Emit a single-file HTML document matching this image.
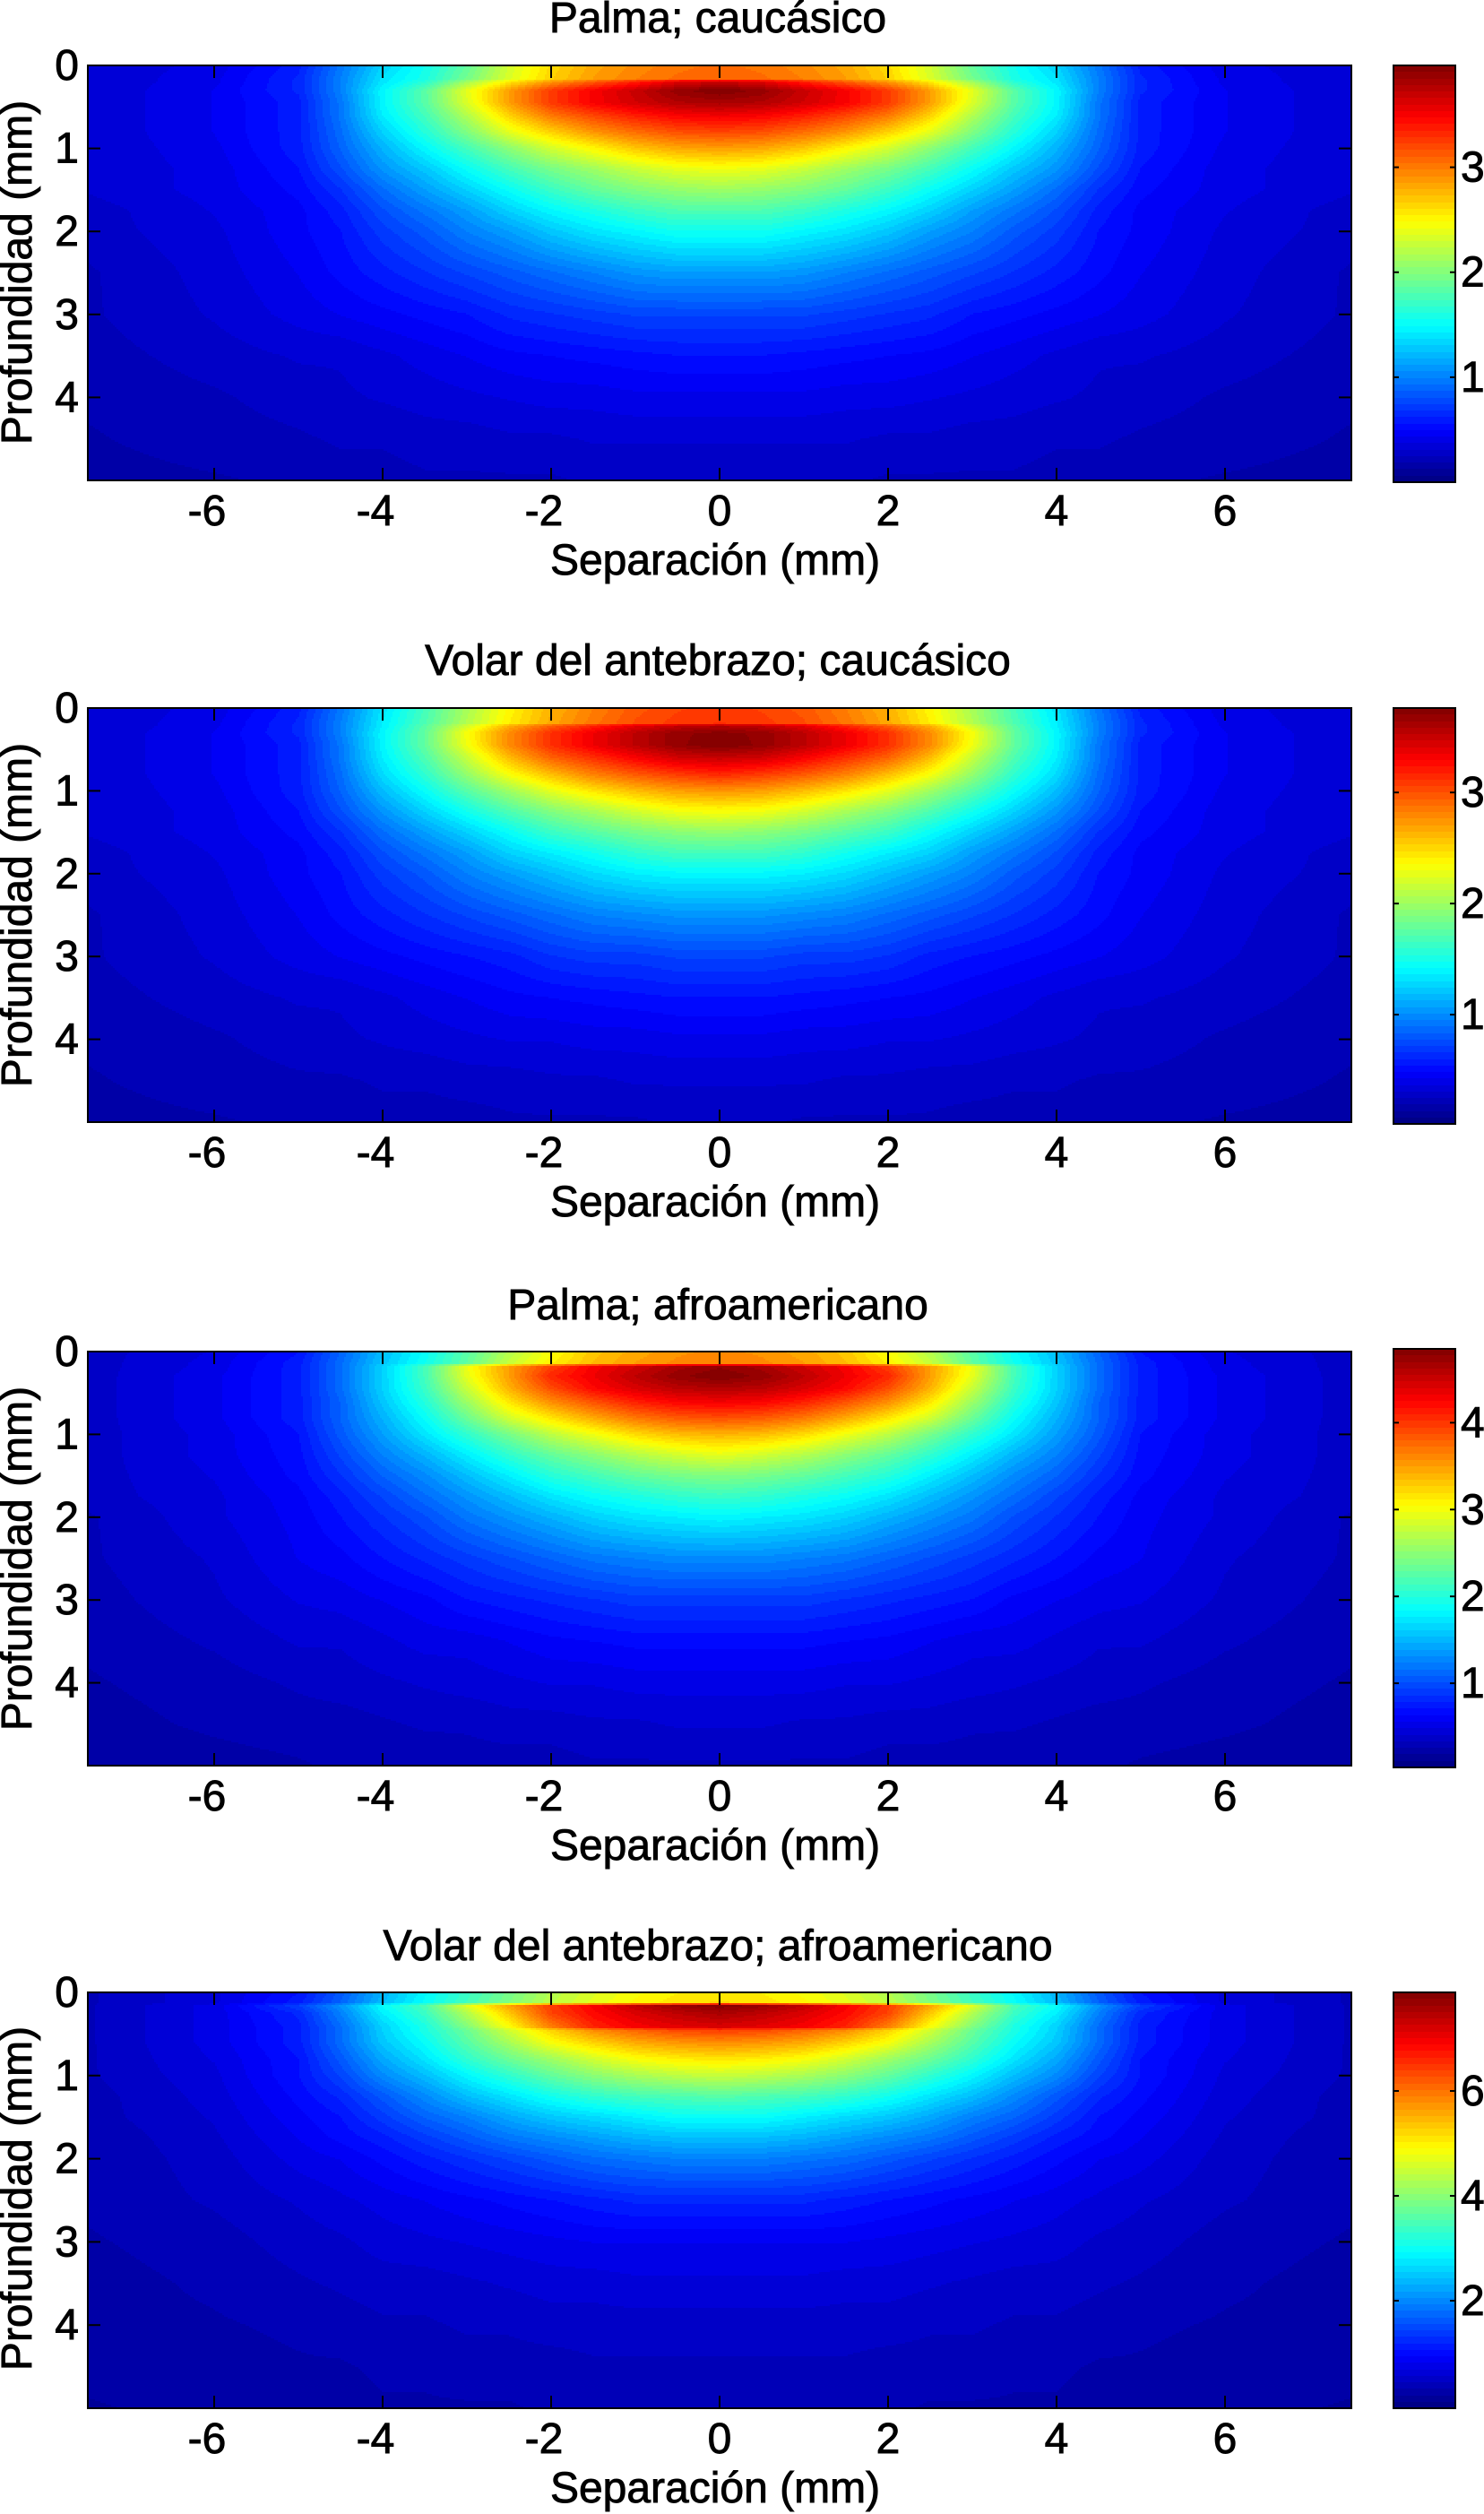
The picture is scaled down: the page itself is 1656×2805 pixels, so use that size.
<!DOCTYPE html>
<html lang="es">
<head>
<meta charset="utf-8">
<title>Fluencia: palma y volar del antebrazo</title>
<style>
html,body{margin:0;padding:0;background:#fff;}
svg{display:block;}
text{font-family:"Liberation Sans",Arial,sans-serif;font-size:48px;fill:#000;stroke:#000;stroke-width:.9px;}
</style>
</head>
<body>
<svg id="figure" xmlns="http://www.w3.org/2000/svg" width="1656" height="2805" viewBox="0 0 1656 2805">
  <rect x="0" y="0" width="1656" height="2805" fill="#fff"/>
  <g id="panel-0"></g>
  <g id="panel-1"></g>
  <g id="panel-2"></g>
  <g id="panel-3"></g>

  <text x="801" y="36" text-anchor="middle">Palma; caucásico</text>
  <text x="798" y="641" text-anchor="middle">Separación (mm)</text>
  <text transform="translate(35 304) rotate(-90)" text-anchor="middle">Profundidad (mm)</text>

  <text x="801" y="753" text-anchor="middle">Volar del antebrazo; caucásico</text>
  <text x="798" y="1357" text-anchor="middle">Separación (mm)</text>
  <text transform="translate(35 1021) rotate(-90)" text-anchor="middle">Profundidad (mm)</text>

  <text x="801" y="1472" text-anchor="middle">Palma; afroamericano</text>
  <text x="798" y="2075" text-anchor="middle">Separación (mm)</text>
  <text transform="translate(35 1739) rotate(-90)" text-anchor="middle">Profundidad (mm)</text>

  <text x="801" y="2187" text-anchor="middle">Volar del antebrazo; afroamericano</text>
  <text x="798" y="2792" text-anchor="middle">Separación (mm)</text>
  <text transform="translate(35 2453) rotate(-90)" text-anchor="middle">Profundidad (mm)</text>
</svg>

<script>
// ---- chart data ----
// Absolute separation |x| in mm (the maps are drawn mirrored about x = 0).
const separationColumns = [0, 0.5, 1, 1.5, 2, 2.5, 3, 3.5, 4, 4.5, 5, 6, 7.5];

const xTickValues = [-6, -4, -2, 0, 2, 4, 6];
const yTickValues = [0, 1, 2, 3, 4];

// Colour-bar maxima and tick values per panel.
const colorbarMax = [3.97, 3.76, 4.85, 7.88];
const colorbarTicks1 = [1, 2, 3];
const colorbarTicks2 = [1, 2, 3];
const colorbarTicks3 = [1, 2, 3, 4];
const colorbarTicks4 = [2, 4, 6];

// Depth rows in mm, one list per panel.
const depthRows1 = [0, 0.17, 0.19, 0.3, 0.45, 0.6, 0.8, 1, 1.25, 1.5, 1.75, 2, 2.5, 3, 3.5, 4, 4.5, 5];
const depthRows2 = [0, 0.19, 0.21, 0.3, 0.45, 0.6, 0.8, 1, 1.25, 1.5, 1.75, 2, 2.5, 3, 3.5, 4, 4.5, 5];
const depthRows3 = [0, 0.15, 0.17, 0.3, 0.45, 0.6, 0.8, 1, 1.25, 1.5, 1.75, 2, 2.5, 3, 3.5, 4, 4.5, 5];
const depthRows4 = [0, 0.13, 0.15, 0.25, 0.42, 0.45, 0.6, 0.8, 1, 1.25, 1.5, 1.75, 2, 2.5, 3, 3.5, 4, 4.5, 5];

// Map values as percent of the panel's colour-bar maximum (rows = depth, columns = |x|).
const fluence1 = [
[77,76,74,71,66,58,47,39,33,24,15,10,8],
[78,77,75,72,67,59,49,40,35,25,16,10.5,8],
[92,90,84,78,72,64,53,41,35,25,16,10.5,8],
[100,98,93,88,82,72,60,46,37,25,16,11,8],
[96,95,92,88,82,72,59,46,37,24,15,11,8],
[89,88,85,81,76,67,55,44,36,24,15,11,8],
[81,80,77,73,67,60,50,41,33,23,15,11,8],
[72,71,68,63,58,51,44,37,30,22,15,10.5,8],
[61,60,57,53,49,44,38,32,27,20,14,10,8],
[53,52,50,47,43,38,33,28,23,17,13,10,8],
[45,45,43,40,37,33,28,24,20,15,12,9.5,7],
[39,39,37,35,32,28,25,21,18,14,12,9,7],
[28,28,27,25,23,21,19,17,15,13,11,8.5,6],
[19,19,19,18,17,16,14,13,12,11,10,8,6],
[14,14,13.5,13,12.5,12,11,10,9,8,8,7,5.5],
[10.5,10.5,10.5,10,10,9.5,9,8.5,8,7.5,7,6,5],
[8,8,8,8,7.5,7.5,7,7,6.5,6.5,6,5.5,4.5],
[6.5,6.5,6.5,6.5,6,6,6,6,5.5,5.5,5,4.5,4]
];
const fluence2 = [
[82,81,79,75,70,63,54,44,35,24,15,10,8],
[83,82,80,76,71,64,55,45,36,25,16,10.5,8],
[95,93,90,84,78,70,58,46,36,25,16,10.5,8],
[99,98,94,89,83,74,62,47,37,25,16,11,8],
[100,98,94,89,83,74,61,47,37,24,15,11,8],
[93,92,88,83,78,69,57,45,36,24,15,11,8],
[84,82,79,75,69,62,52,42,34,23,15,11,8],
[73,72,69,65,60,53,46,38,31,22,15,10.5,8],
[62,61,58,54,50,45,39,33,27,20,14,10,8],
[52,51,49,46,43,38,33,28,23,17,13,10,8],
[44,44,42,39,36,33,28,24,20,15,12,9.5,7],
[37,37,36,34,31,28,25,21,18,14,12,9,7],
[27,27,26,25,23,21,19,17,15,13,11,8.5,6],
[19,19,18,18,17,15,14,13,12,11,10,8,6],
[14,14,13.5,13,12.5,12,11,10,9,8,8,7,5.5],
[10.5,10.5,10,10,9.5,9.5,9,8.5,8,7.5,7,6,5],
[8,8,8,7.5,7.5,7,7,6.5,6.5,6,6,5.5,4.5],
[6.5,6.5,6,6,6,6,5.5,5.5,5.5,5,5,4.5,4]
];
const fluence3 = [
[74,73,71,68,62,55,46,38,31,22,14,9.5,7],
[75,74,72,69,64,57,47,39,32,23,15,10,7],
[98,96,92,88,81,72,61,44,33,23,15,10,7],
[100,98,94,89,84,72,60,44,33,23,15,10.5,7],
[95,94,91,87,80,70,57,43,33,23,15,10.5,7],
[89,88,85,80,74,65,53,41,32,22,15,10.5,7],
[80,79,76,71,65,58,48,38,30,22,15,10.5,7],
[70,69,66,61,56,49,42,35,28,21,14,10,7],
[60,58,55,51,47,42,36,30,25,19,13.5,10,7],
[50,49,47,44,41,36,31,26,22,17,13,9.5,7],
[43,42,40,38,35,31,27,23,19,15,12,9,7],
[37,36,35,33,30,27,24,20,17,14,11.5,9,6],
[26,26,25,24,22,20,18,16,14,12,11,8,6],
[18,18,18,17,16,15,14,12,11,10,9.5,7.5,5.5],
[13,13,13,12.5,12,11,10,10,9,8,8,6.5,5],
[10,10,10,9.5,9.5,9,8.5,8,7.5,7,6.5,5.5,4.5],
[8,8,7.5,7.5,7,7,6.5,6.5,6,5.5,5.5,5,4],
[6,6,6,6,5.5,5.5,5.5,5,5,5,4.5,4,3.5]
];
const fluence4 = [
[64,64,62,59,55,49,43,37,30,21,14,9,6],
[66,65,63,60,56,50,44,38,31,22,15,9,6],
[100,98,94,88,82,72,60,45,38,27,19,10,6],
[96,94,91,87,81,68,55,43,36,25,16,10,6],
[91,90,88,84,75,62,50,40,33,23,15,10,6],
[82,81,78,74,67,58,48,40,33,23,15,10,6],
[74,73,71,67,62,54,46,38,32,23,15,10,6],
[65,64,62,58,53,48,42,35,29,21,14,9.5,6],
[57,56,54,51,47,42,37,31,26,19,14,9,6],
[46,45,44,42,39,35,31,26,21,16,13,8.5,5.5],
[38,38,36,34,32,29,25,22,18,14,12,8,5.5],
[31,31,30,28,26,24,21,18,15,13,11,7.5,5],
[25,25,24,23,21,19,17,15,13,11,10,7,5],
[16,16,16,15,14,13,12,11,10,9,8,6.5,5],
[11,11,11,11,10.5,10,9.5,9,8.5,7.5,7,5.5,4.5],
[9,9,9,8.5,8.5,8,7.5,7,7,6.5,6,5,4],
[7,7,7,7,7,6.5,6.5,6,6,5.5,5,4.5,4],
[6,6,6,6,5.5,5.5,5.5,5,5,4.5,4.5,4,3.5],
[5,5,5,5,5,4.5,4.5,4.5,4.5,4,4,3.5,3]
];

// ---- layout (frame geometry only) ----
const SVG_NS = 'http://www.w3.org/2000/svg';
const AXES_LEFT = 98, AXES_RIGHT = 1508, CBAR_LEFT = 1555, CBAR_RIGHT = 1624;
const X_MIN = -7.5, X_MAX = 7.5, DEPTH_MAX = 5, LEVELS = 64, STEP = 2, TICK = 14;

const panels = [
  {axesTop: 73,   axesBottom: 536,  barTop: 73,   barBottom: 538,  barZero: 538,  max: colorbarMax[0], depths: depthRows1, grid: fluence1, barTicks: colorbarTicks1},
  {axesTop: 790,  axesBottom: 1252, barTop: 790,  barBottom: 1254, barZero: 1256, max: colorbarMax[1], depths: depthRows2, grid: fluence2, barTicks: colorbarTicks2},
  {axesTop: 1508, axesBottom: 1970, barTop: 1505, barBottom: 1972, barZero: 1975, max: colorbarMax[2], depths: depthRows3, grid: fluence3, barTicks: colorbarTicks3},
  {axesTop: 2223, axesBottom: 2687, barTop: 2223, barBottom: 2687, barZero: 2684, max: colorbarMax[3], depths: depthRows4, grid: fluence4, barTicks: colorbarTicks4}
];

// ---- scales ----
function xScale(x) { return AXES_LEFT + (x - X_MIN) / (X_MAX - X_MIN) * (AXES_RIGHT - AXES_LEFT); }
function xInvert(px) { return X_MIN + (px - AXES_LEFT) / (AXES_RIGHT - AXES_LEFT) * (X_MAX - X_MIN); }
function yScale(p, d) { return p.axesTop + d / DEPTH_MAX * (p.axesBottom - p.axesTop); }
function yInvert(p, py) { return (py - p.axesTop) / (p.axesBottom - p.axesTop) * DEPTH_MAX; }
function barScale(p, v) { return p.barZero - v / p.max * (p.barZero - p.barTop); }
function clamp01(v) { return Math.max(0, Math.min(1, v)); }
function jet(f) {
  const r = clamp01(Math.min(4 * f - 1.5, -4 * f + 4.5));
  const g = clamp01(Math.min(4 * f - 0.5, -4 * f + 3.5));
  const b = clamp01(Math.min(4 * f + 0.5, -4 * f + 2.5));
  return 'rgb(' + Math.round(r * 255) + ',' + Math.round(g * 255) + ',' + Math.round(b * 255) + ')';
}
function levelOf(fraction) { return Math.max(0, Math.min(LEVELS - 1, Math.floor(fraction * LEVELS))); }
function locate(list, v) {
  let i = 0;
  while (i < list.length - 2 && v > list[i + 1]) i++;
  const t = (v - list[i]) / (list[i + 1] - list[i]);
  return {i: i, t: Math.max(0, Math.min(1, t))};
}
// Shaded-surface lookup between grid nodes (interpolated shading at render time).
function shade(p, absX, d) {
  const c = locate(separationColumns, absX), r = locate(p.depths, d), g = p.grid;
  const top = g[r.i][c.i] * (1 - c.t) + g[r.i][c.i + 1] * c.t;
  const bot = g[r.i + 1][c.i] * (1 - c.t) + g[r.i + 1][c.i + 1] * c.t;
  return (top * (1 - r.t) + bot * r.t) / 100;
}

// ---- drawing ----
function drawHeatmap(host, p, n) {
  const paths = [];
  for (let i = 0; i < LEVELS; i++) paths.push('');
  for (let py = p.axesTop; py < p.axesBottom; py += STEP) {
    const h = Math.min(STEP, p.axesBottom - py);
    const d = yInvert(p, py + h / 2);
    let runStart = AXES_LEFT, runLevel = -1;
    for (let px = AXES_LEFT; px <= AXES_RIGHT; px += STEP) {
      const lev = px < AXES_RIGHT ? levelOf(shade(p, Math.abs(xInvert(px + STEP / 2)), d)) : -2;
      if (lev !== runLevel) {
        if (runLevel >= 0) paths[runLevel] += 'M' + runStart + ' ' + py + 'h' + (px - runStart) + 'v' + h + 'h' + (runStart - px) + 'z';
        runStart = px;
        runLevel = lev;
      }
    }
  }
  const group = document.createElementNS(SVG_NS, 'g');
  
  
  group.setAttribute('shape-rendering', 'crispEdges');
  paths.forEach(function (dStr, i) {
    if (!dStr) return;
    const path = document.createElementNS(SVG_NS, 'path');
    
    
    path.setAttribute('d', dStr);
    path.setAttribute('fill', jet((i + 0.5) / LEVELS));
    group.appendChild(path);
  });
  host.appendChild(group);
}

function drawLine(host, x1, y1, x2, y2, width, name) {
  const line = document.createElementNS(SVG_NS, 'line');
  
  
  line.setAttribute('x1', x1);
  line.setAttribute('y1', y1);
  line.setAttribute('x2', x2);
  line.setAttribute('y2', y2);
  line.setAttribute('stroke', '#000');
  line.setAttribute('stroke-width', width);
  host.appendChild(line);
}

function drawLabel(host, x, y, anchor, content, name) {
  const label = document.createElementNS(SVG_NS, 'text');
  
  
  label.setAttribute('x', x);
  label.setAttribute('y', y);
  label.setAttribute('text-anchor', anchor);
  label.textContent = content;
  host.appendChild(label);
}

function drawFrame(host, x, y, w, h, name) {
  const frame = document.createElementNS(SVG_NS, 'rect');
  
  
  frame.setAttribute('x', x);
  frame.setAttribute('y', y);
  frame.setAttribute('width', w);
  frame.setAttribute('height', h);
  frame.setAttribute('fill', 'none');
  frame.setAttribute('stroke', '#000');
  frame.setAttribute('stroke-width', 2);
  host.appendChild(frame);
}

function drawAxes(host, p) {
  xTickValues.forEach(function (v) {
    const x = xScale(v);
    drawLine(host, x, p.axesTop, x, p.axesTop + TICK, 2, 'x-tick-top');
    drawLine(host, x, p.axesBottom, x, p.axesBottom - TICK, 2, 'x-tick-bottom');
    drawLabel(host, v < 0 ? x - 8 : x, p.axesBottom + 50, 'middle', String(v), 'x-tick-label');
  });
  yTickValues.forEach(function (v) {
    const y = yScale(p, v);
    drawLine(host, AXES_LEFT, y, AXES_LEFT + TICK, y, 2, 'y-tick-left');
    drawLine(host, AXES_RIGHT, y, AXES_RIGHT - TICK, y, 2, 'y-tick-right');
    drawLabel(host, 88, y + 16, 'end', String(v), 'y-tick-label');
  });
  drawFrame(host, AXES_LEFT, p.axesTop, AXES_RIGHT - AXES_LEFT, p.axesBottom - p.axesTop, 'axes-frame');
}

function drawColorbar(host, p, n) {
  const group = document.createElementNS(SVG_NS, 'g');
  
  
  group.setAttribute('shape-rendering', 'crispEdges');
  const segH = (p.barBottom - p.barTop) / LEVELS;
  for (let i = 0; i < LEVELS; i++) {
    const seg = document.createElementNS(SVG_NS, 'rect');
    
    
    const y0 = Math.round(p.barBottom - (i + 1) * segH), y1 = Math.round(p.barBottom - i * segH);
    seg.setAttribute('x', CBAR_LEFT);
    seg.setAttribute('y', y0);
    seg.setAttribute('width', CBAR_RIGHT - CBAR_LEFT);
    seg.setAttribute('height', y1 - y0);
    seg.setAttribute('fill', jet((i + 0.5) / LEVELS));
    group.appendChild(seg);
  }
  host.appendChild(group);
  p.barTicks.forEach(function (v) {
    const y = barScale(p, v);
    drawLine(host, CBAR_LEFT, y, CBAR_LEFT + 6, y, 2, 'colorbar-tick-left');
    drawLine(host, CBAR_RIGHT, y, CBAR_RIGHT - 6, y, 2, 'colorbar-tick-right');
    drawLabel(host, 1630, y + 16, 'start', String(v), 'colorbar-tick-label');
  });
  drawFrame(host, CBAR_LEFT, p.barTop, CBAR_RIGHT - CBAR_LEFT, p.barBottom - p.barTop, 'colorbar-frame');
}

panels.forEach(function (p, i) {
  const host = document.getElementById('panel-' + i);
  drawHeatmap(host, p, i + 1);
  drawAxes(host, p);
  drawColorbar(host, p, i + 1);
});
</script>
</body>
</html>
